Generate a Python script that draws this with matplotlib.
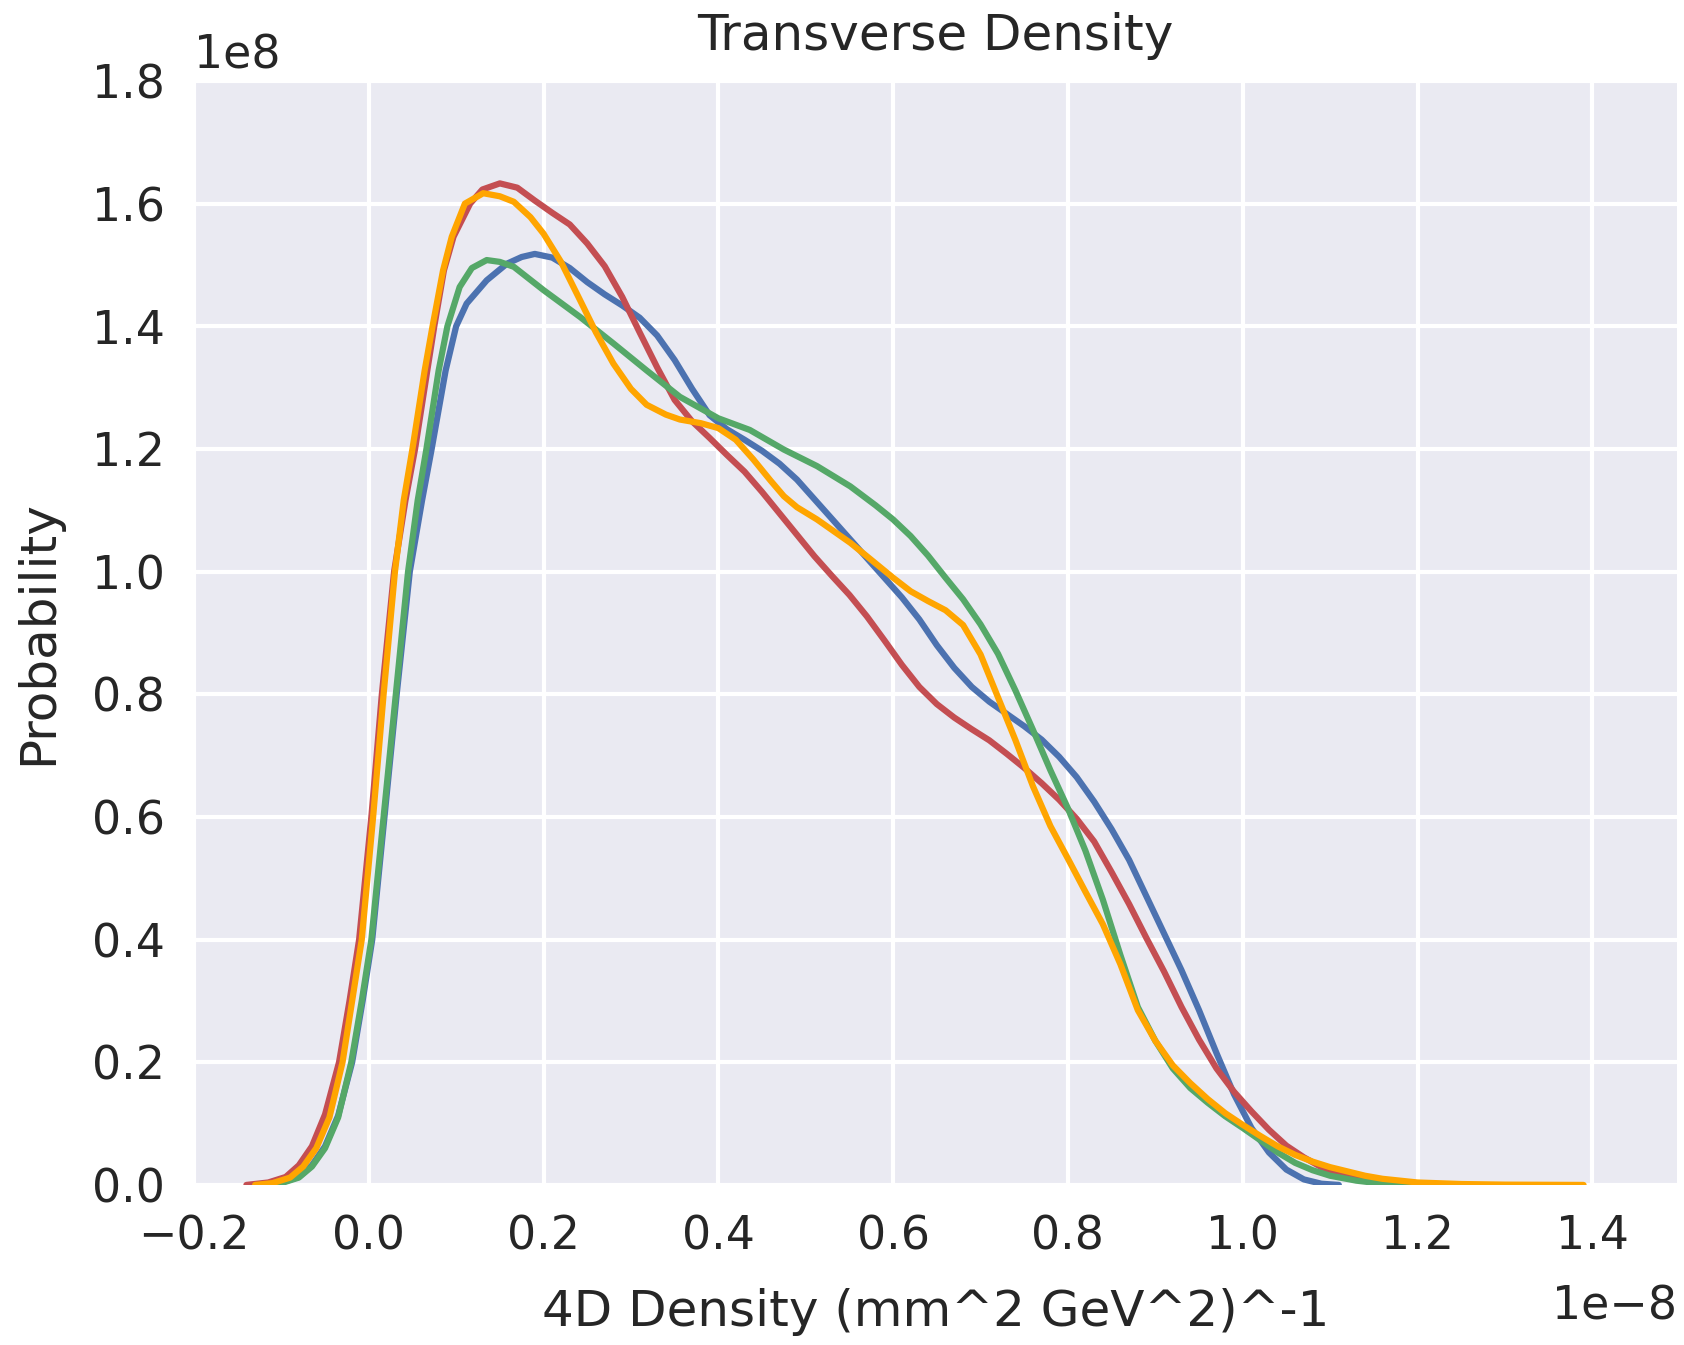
import numpy as np
import matplotlib as mpl
mpl.use('Agg')
import matplotlib.pyplot as plt
import matplotlib.transforms as mtransforms

# seaborn "darkgrid" look, notebook context
mpl.rcParams.update({
    'axes.facecolor': '#EAEAF2',
    'axes.edgecolor': 'white',
    'axes.grid': True,
    'axes.axisbelow': True,
    'axes.labelcolor': '.15',
    'axes.linewidth': 1.25,
    'axes.labelpad': 7.0,
    'axes.titlepad': 7.5,
    'grid.color': 'white',
    'grid.linewidth': 1.0,
    'text.color': '.15',
    'xtick.color': '.15',
    'ytick.color': '.15',
    'xtick.bottom': False,
    'ytick.left': False,
    'font.size': 12,
    'axes.labelsize': 12,
    'axes.titlesize': 12,
    'xtick.labelsize': 11,
    'ytick.labelsize': 11,
    'lines.linewidth': 1.5,
    'lines.solid_capstyle': 'round',
    'lines.solid_joinstyle': 'round',
})

X_SCALE = 1e-8   # density axis unit
Y_SCALE = 1e8    # probability axis unit

# kde curves, x in units of 1e-8, y in units of 1e8
blue_x = [-0.125, -0.10, -0.08, -0.065, -0.05, -0.035, -0.019, -0.007, 0.004, 0.018,
          0.032, 0.047, 0.061, 0.072, 0.088, 0.10, 0.112, 0.135, 0.158, 0.175,
          0.19, 0.21, 0.23, 0.25, 0.27, 0.29, 0.31, 0.33, 0.35, 0.37,
          0.39, 0.41, 0.43, 0.45, 0.47, 0.49, 0.51, 0.53, 0.55, 0.57,
          0.59, 0.61, 0.63, 0.65, 0.67, 0.69, 0.71, 0.73, 0.75, 0.77,
          0.79, 0.81, 0.83, 0.85, 0.87, 0.89, 0.91, 0.93, 0.95, 0.97,
          0.99, 1.01, 1.03, 1.05, 1.07, 1.09, 1.11]
blue_y = [0.0, 0.004, 0.013, 0.032, 0.063, 0.113, 0.2, 0.3, 0.4, 0.6,
          0.8, 1.0, 1.116, 1.2, 1.328, 1.4, 1.437, 1.475, 1.502, 1.513,
          1.518, 1.512, 1.495, 1.472, 1.452, 1.434, 1.414, 1.385, 1.345, 1.298,
          1.255, 1.232, 1.215, 1.197, 1.176, 1.15, 1.118, 1.086, 1.054, 1.022,
          0.99, 0.958, 0.922, 0.88, 0.843, 0.812, 0.788, 0.768, 0.748, 0.726,
          0.698, 0.665, 0.625, 0.58, 0.53, 0.47, 0.41, 0.35, 0.285, 0.215,
          0.148, 0.093, 0.053, 0.025, 0.009, 0.002, 0.0]

red_x = [-0.14, -0.115, -0.095, -0.08, -0.065, -0.05, -0.034, -0.022, -0.011, 0.003,
         0.015, 0.029, 0.042, 0.053, 0.067, 0.075, 0.086, 0.097, 0.116, 0.13,
         0.15, 0.17, 0.19, 0.21, 0.23, 0.25, 0.27, 0.29, 0.31, 0.33,
         0.35, 0.37, 0.39, 0.41, 0.43, 0.45, 0.47, 0.49, 0.51, 0.53,
         0.55, 0.57, 0.59, 0.61, 0.63, 0.65, 0.67, 0.69, 0.71, 0.73,
         0.75, 0.77, 0.79, 0.81, 0.83, 0.85, 0.87, 0.89, 0.91, 0.93,
         0.95, 0.97, 0.99, 1.01, 1.03, 1.05, 1.07, 1.09, 1.11, 1.13,
         1.16, 1.20, 1.25]
red_y = [0.0, 0.004, 0.013, 0.032, 0.063, 0.115, 0.2, 0.3, 0.4, 0.6,
         0.8, 1.0, 1.116, 1.2, 1.328, 1.4, 1.491, 1.546, 1.6, 1.623,
         1.633, 1.626, 1.605, 1.585, 1.566, 1.535, 1.498, 1.448, 1.39, 1.333,
         1.28, 1.245, 1.218, 1.19, 1.163, 1.13, 1.095, 1.06, 1.025, 0.993,
         0.962, 0.927, 0.888, 0.848, 0.812, 0.784, 0.762, 0.743, 0.725, 0.703,
         0.68, 0.655, 0.628, 0.597, 0.56, 0.51, 0.458, 0.402, 0.348, 0.29,
         0.237, 0.19, 0.152, 0.12, 0.09, 0.064, 0.045, 0.029, 0.018, 0.011,
         0.004, 0.001, 0.0]

green_x = [-0.12, -0.10, -0.08, -0.065, -0.05, -0.035, -0.02, -0.008, 0.003, 0.017,
           0.031, 0.045, 0.056, 0.066, 0.08, 0.09, 0.104, 0.118, 0.135, 0.15,
           0.166, 0.2, 0.242, 0.28, 0.318, 0.356, 0.4, 0.436, 0.475, 0.513,
           0.551, 0.58, 0.60, 0.62, 0.64, 0.66, 0.68, 0.70, 0.72, 0.74,
           0.76, 0.78, 0.80, 0.82, 0.84, 0.86, 0.88, 0.90, 0.92, 0.94,
           0.96, 0.98, 1.0, 1.02, 1.04, 1.06, 1.08, 1.10, 1.13, 1.16,
           1.22]
green_y = [0.0, 0.003, 0.012, 0.03, 0.06, 0.11, 0.2, 0.3, 0.4, 0.6,
           0.8, 1.0, 1.116, 1.2, 1.328, 1.4, 1.464, 1.495, 1.508, 1.505,
           1.497, 1.459, 1.415, 1.372, 1.328, 1.285, 1.25, 1.231, 1.199, 1.172,
           1.139, 1.108, 1.085, 1.058, 1.026, 0.99, 0.955, 0.914, 0.866, 0.806,
           0.742, 0.676, 0.614, 0.545, 0.465, 0.375, 0.29, 0.235, 0.19, 0.158,
           0.134, 0.112, 0.093, 0.073, 0.053, 0.036, 0.024, 0.015, 0.007, 0.002,
           0.0]

orange_x = [-0.13, -0.11, -0.09, -0.075, -0.06, -0.045, -0.03, -0.019, -0.008, 0.005,
            0.017, 0.030, 0.040, 0.050, 0.064, 0.073, 0.085, 0.095, 0.110, 0.131,
            0.15, 0.166, 0.185, 0.2, 0.22, 0.242, 0.26, 0.28, 0.30, 0.318,
            0.34, 0.356, 0.38, 0.40, 0.42, 0.44, 0.46, 0.475, 0.49, 0.513,
            0.53, 0.551, 0.57, 0.60, 0.62, 0.64, 0.66, 0.68, 0.70, 0.72,
            0.74, 0.76, 0.78, 0.80, 0.82, 0.84, 0.86, 0.88, 0.90, 0.92,
            0.94, 0.96, 0.98, 1.0, 1.02, 1.04, 1.06, 1.08, 1.10, 1.12,
            1.14, 1.16, 1.20, 1.25, 1.30, 1.39]
orange_y = [0.0, 0.003, 0.012, 0.03, 0.06, 0.11, 0.2, 0.3, 0.4, 0.6,
            0.8, 1.0, 1.116, 1.2, 1.328, 1.4, 1.491, 1.546, 1.6, 1.617,
            1.612, 1.603, 1.578, 1.551, 1.505, 1.442, 1.39, 1.339, 1.298, 1.272,
            1.256, 1.248, 1.242, 1.234, 1.215, 1.183, 1.148, 1.123, 1.105, 1.085,
            1.068, 1.047, 1.025, 0.99, 0.968, 0.952, 0.937, 0.913, 0.865, 0.795,
            0.725, 0.65, 0.585, 0.532, 0.478, 0.425, 0.36, 0.285, 0.235, 0.195,
            0.166, 0.14, 0.117, 0.098, 0.08, 0.063, 0.049, 0.038, 0.029, 0.022,
            0.015, 0.01, 0.004, 0.0015, 0.0005, 0.0]

curves = [(blue_x, blue_y, '#4C72B0'),
          (red_x, red_y, '#C44E52'),
          (green_x, green_y, '#55A868'),
          (orange_x, orange_y, 'orange')]

fig = plt.figure(figsize=(1685 / 300, 1345 / 300), dpi=300)
ax = fig.add_axes([0.1151, 0.1190, 0.8802, 0.8208])

for xs, ys, c in curves:
    ax.plot(np.array(xs) * X_SCALE, np.array(ys) * Y_SCALE, color=c)

ax.set_xlim(-0.2 * X_SCALE, 1.497 * X_SCALE)
ax.set_ylim(0, 1.8 * Y_SCALE)
ax.set_xticks(np.arange(-0.2, 1.41, 0.2) * X_SCALE)
ax.set_yticks(np.arange(0, 1.81, 0.2) * Y_SCALE)
for s in ax.spines.values():
    s.set_visible(False)

ax.set_title('Transverse Density')
ax.set_xlabel('4D Density (mm^2 GeV^2)^-1')
ax.set_ylabel('Probability')

# push the x offset text ("1e-8") a little lower
off = ax.xaxis.get_offset_text()
off.set_transform(off.get_transform()
                  + mtransforms.ScaledTranslation(0, -3 / 72, fig.dpi_scale_trans))

fig.savefig('out.png', dpi=300)
